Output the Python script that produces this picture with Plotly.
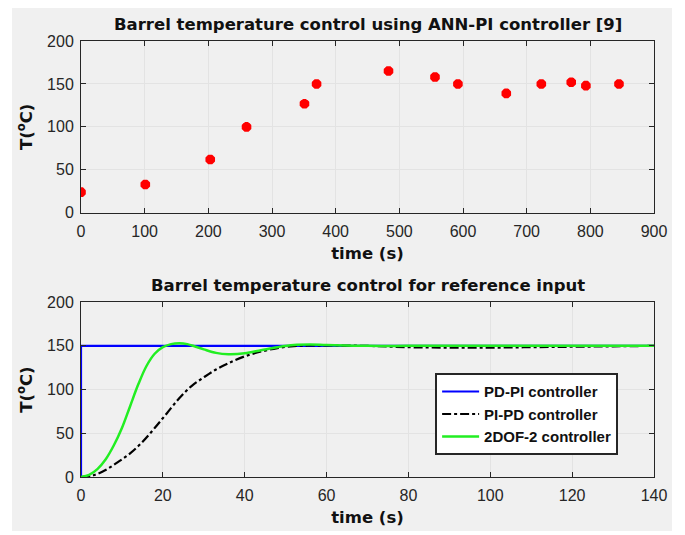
import plotly.graph_objects as go
from plotly.subplots import make_subplots

# ------------------------
# Data
# ------------------------
# top: ANN-PI measurements
ann_time = [0, 101, 203, 260, 351, 370, 483, 556, 592, 668, 723, 770, 793, 845]
ann_temp = [24, 33, 62, 100, 127, 150, 165, 158, 150, 139, 150, 152, 148, 150]

# bottom: responses to reference input
pdpi_time = [0, 0, 140]
pdpi_temp = [0, 150, 150]

pipd_time = [0, 3, 6, 9, 12, 15, 18, 21, 24, 27, 30, 33, 36, 40, 44, 48, 52,
             56, 60, 70, 80, 90, 100, 110, 120, 130, 140]
pipd_temp = [0, 2, 8, 17, 27, 40, 56, 73, 90, 104, 114, 123, 130, 138, 143.5,
             147.5, 149.7, 150.5, 150.5, 150, 148.5, 148, 148, 148.5, 149,
             149.5, 150]

dof_time = [0, 2, 4, 6, 8, 10, 12, 14, 16, 18, 20, 22, 24, 26, 28, 30, 33, 36,
            40, 44, 48, 52, 56, 60, 70, 80, 90, 100, 110, 120, 130, 140]
dof_temp = [0, 2.5, 9, 20, 36, 56, 81, 106, 127, 141, 148.5, 152, 153, 152,
            149, 146, 142, 140.5, 141.5, 145, 148.5, 151, 151.5, 151, 150, 150,
            150, 150, 150, 150, 150, 150]

top_title = "Barrel temperature control using ANN-PI controller [9]"
bottom_title = "Barrel temperature control for reference input"

TICK_FONT = "Liberation Sans, Arial, sans-serif"
BOLD_FONT = "DejaVu Sans, Verdana, sans-serif"
AX = "#262626"
GRID = "#e3e3e3"

fig = make_subplots(rows=2, cols=1, vertical_spacing=0.0)

fig.add_trace(go.Scatter(
    x=ann_time, y=ann_temp, mode="markers", showlegend=False,
    marker=dict(symbol="asterisk-open", size=8, color="red",
                line=dict(color="red", width=4))
), row=1, col=1)

fig.add_trace(go.Scatter(x=pdpi_time, y=pdpi_temp, mode="lines",
                         name="PD-PI controller",
                         line=dict(color="#0000ff", width=2.2)), row=2, col=1)
fig.add_trace(go.Scatter(x=pipd_time, y=pipd_temp, mode="lines",
                         name="PI-PD controller", line_shape="spline",
                         line=dict(color="black", width=2.2, dash="dashdot")),
              row=2, col=1)
fig.add_trace(go.Scatter(x=dof_time, y=dof_temp, mode="lines",
                         name="2DOF-2 controller", line_shape="spline",
                         line=dict(color="#22ee22", width=2.5)), row=2, col=1)

axis_common = dict(showgrid=True, gridcolor=GRID, showline=True, linecolor=AX,
                   linewidth=1, mirror="allticks", ticks="inside", ticklen=5,
                   tickcolor=AX, zeroline=False,
                   tickfont=dict(family=TICK_FONT, size=16, color=AX),
                   title_font=dict(family=BOLD_FONT, size=16.5, color="#111111"))

fig.update_xaxes(**axis_common, ticklabelstandoff=4)
fig.update_yaxes(**axis_common, ticklabelstandoff=3)

fig.update_xaxes(range=[0, 900], dtick=100, title_text="<b>time (s)</b>",
                 title_standoff=8, row=1, col=1)
fig.update_xaxes(range=[0, 140], dtick=20, title_text="<b>time (s)</b>",
                 title_standoff=8, row=2, col=1)
fig.update_yaxes(range=[0, 200], dtick=50, title_text="<b>T(<sup>o</sup>C)</b>",
                 title_standoff=10, domain=[0.606, 1.0], row=1, col=1)
fig.update_yaxes(range=[0, 200], dtick=50, title_text="<b>T(<sup>o</sup>C)</b>",
                 title_standoff=10, domain=[0.0, 0.401], row=2, col=1)

# gray figure area inside a thin white border
fig.add_shape(type="rect", xref="paper", yref="paper",
              x0=-0.1204, x1=1.0314, y0=-0.1239, y1=1.1,
              fillcolor="#f0f0f0", line_width=0, layer="below")

for txt, ypos in [(top_title, 1.0), (bottom_title, 0.401)]:
    fig.add_annotation(text="<b>" + txt + "</b>", xref="paper", yref="paper",
                       x=0.5, y=ypos, yanchor="middle", yshift=17,
                       showarrow=False,
                       font=dict(family=BOLD_FONT, size=16.5, color="#111111"))

fig.update_layout(
    width=677, height=527,
    margin=dict(l=73, r=31, t=33, b=58),
    paper_bgcolor="white",
    plot_bgcolor="white",
    legend=dict(x=0.618, y=0.238, xanchor="left", yanchor="top",
                bgcolor="white", bordercolor=AX, borderwidth=2,
                font=dict(family=TICK_FONT, size=15, color="#111111"),
                tracegroupgap=0, itemwidth=37),
)

# bold legend labels
for tr in fig.data[1:]:
    tr.name = "<b>" + tr.name + "</b>"

fig.write_html("out.html")
